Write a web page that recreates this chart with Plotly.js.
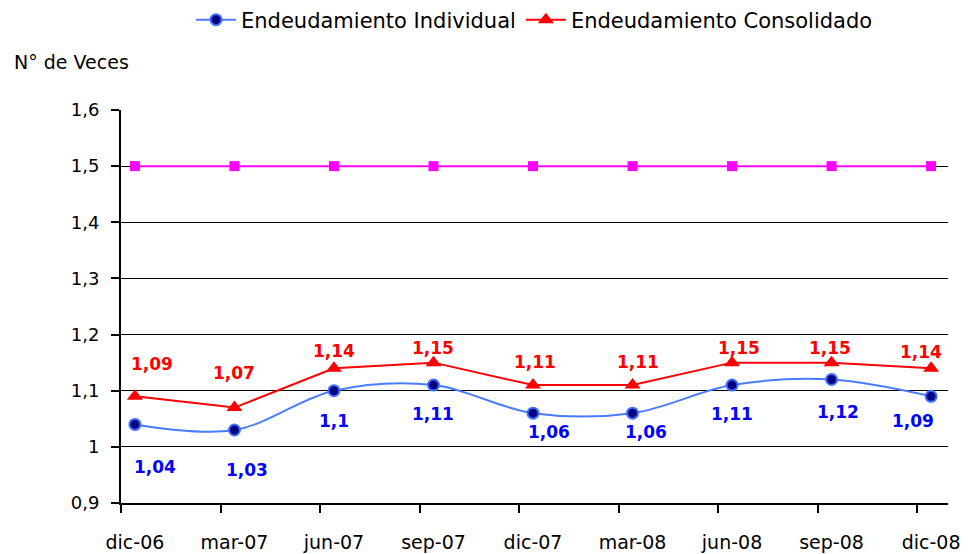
<!DOCTYPE html>
<html>
<head>
<meta charset="utf-8">
<script src="https://cdn.plot.ly/plotly-3.0.1.min.js"></script>
<style>html,body{margin:0;padding:0;background:#fff;}#chart{width:968px;height:554px;}</style>
</head>
<body>
<div id="chart"></div>
<script>
// ---- data ----
const categories = ["dic-06","mar-07","jun-07","sep-07","dic-07","mar-08","jun-08","sep-08","dic-08"];
const individual = [1.04, 1.03, 1.10, 1.11, 1.06, 1.06, 1.11, 1.12, 1.09];
const consolidado = [1.09, 1.07, 1.14, 1.15, 1.11, 1.11, 1.15, 1.15, 1.14];
const limite = [1.5, 1.5, 1.5, 1.5, 1.5, 1.5, 1.5, 1.5, 1.5];
const yTicks = [0.9, 1.0, 1.1, 1.2, 1.3, 1.4, 1.5, 1.6];

// ---- label placement (style only) ----
const indLabelShift = [[20,-43],[13,-40],[0,-30],[0,-29],[16,-19],[13,-19],[0,-29],[6,-33],[-18,-25]];
const conLabelShift = [[17,32],[0,35],[0,17],[0,15],[2,23],[5,23],[7,15],[-2,15],[-10,16]];

const fmt = v => String(v).replace('.', ',');
const idx = categories.map((c, i) => i);
const FONT = "DejaVu Sans, sans-serif";

const traces = [
  {
    x: idx, y: limite, type: 'scatter', mode: 'lines+markers',
    line: {color: '#ff00ff', width: 2},
    marker: {symbol: 'square', size: 10, color: '#ff00ff'},
    showlegend: false, hoverinfo: 'skip'
  },
  {
    x: idx, y: individual, type: 'scatter', mode: 'lines+markers',
    name: 'Endeudamiento Individual',
    line: {color: '#4a7cff', width: 2, shape: 'spline', smoothing: 1},
    marker: {symbol: 'circle', size: 11, color: '#000080', line: {color: '#3f6fff', width: 2}}
  },
  {
    x: idx, y: consolidado, type: 'scatter', mode: 'lines+markers',
    name: 'Endeudamiento Consolidado',
    line: {color: '#ff0000', width: 2},
    marker: {symbol: 'triangle-up', size: 14, color: '#ff0000'}
  },
  // invisible trace on xaxis2 to carry the offset tick marks
  {
    x: [-0.14, 8.17], y: [0.9, 0.9], xaxis: 'x2', type: 'scatter', mode: 'none',
    showlegend: false, hoverinfo: 'skip'
  }
];

const plotW = 968 - 121 - 20, plotH = 554 - 110 - 51;
const annotations = [];
individual.forEach((v, i) => {
  annotations.push({
    x: i, y: v, xref: 'x', yref: 'y', text: fmt(v), showarrow: false,
    xshift: indLabelShift[i][0], yshift: indLabelShift[i][1],
    font: {family: FONT, size: 17, color: '#0000ff', weight: 'bold'}
  });
});
consolidado.forEach((v, i) => {
  annotations.push({
    x: i, y: v, xref: 'x', yref: 'y', text: fmt(v), showarrow: false,
    xshift: conLabelShift[i][0], yshift: conLabelShift[i][1],
    font: {family: FONT, size: 17, color: '#ff0000', weight: 'bold'}
  });
});
annotations.push({
  x: (12 - 121) / plotW, y: (554 - 51 - 62) / plotH, xref: 'paper', yref: 'paper',
  text: 'N° de Veces', showarrow: false, xanchor: 'left', yanchor: 'middle',
  font: {family: FONT, size: 19, color: '#000'}
});

const layout = {
  width: 968, height: 554,
  margin: {l: 121, r: 20, t: 110, b: 51},
  paper_bgcolor: '#ffffff', plot_bgcolor: '#ffffff',
  font: {family: FONT, size: 18, color: '#000'},
  xaxis: {
    range: [-0.14, 8.17],
    tickmode: 'array', tickvals: idx, ticktext: categories,
    ticks: '', showgrid: false, zeroline: false,
    showline: true, linecolor: '#000', linewidth: 2,
    ticklabelstandoff: 21, automargin: false,
    tickfont: {family: FONT, size: 19, color: '#000'}
  },
  xaxis2: {
    overlaying: 'x', side: 'bottom', range: [-0.14, 8.17],
    tickmode: 'linear', tick0: -0.14, dtick: 1,
    ticks: 'outside', ticklen: 9, tickwidth: 2, tickcolor: '#000',
    showticklabels: false, showgrid: false, zeroline: false, showline: false
  },
  yaxis: {
    range: [0.9, 1.6],
    tickmode: 'array', tickvals: yTicks, ticktext: yTicks.map(fmt),
    ticks: 'outside', ticklen: 8, tickwidth: 2, tickcolor: '#000',
    showgrid: true, gridcolor: '#000', gridwidth: 1,
    zeroline: false, showline: true, linecolor: '#000', linewidth: 2,
    ticklabelstandoff: 8, automargin: false,
    tickfont: {family: FONT, size: 18, color: '#000'}
  },
  legend: {
    orientation: 'h', x: 0.5, xanchor: 'center',
    yref: 'container', y: 1 - 20 / 554, yanchor: 'middle',
    font: {family: FONT, size: 21, color: '#000'},
    bgcolor: 'rgba(0,0,0,0)', itemwidth: 40, traceorder: 'normal'
  },
  annotations: annotations,
  showlegend: true
};

Plotly.newPlot('chart', traces, layout, {displayModeBar: false, staticPlot: true});
</script>
</body>
</html>
